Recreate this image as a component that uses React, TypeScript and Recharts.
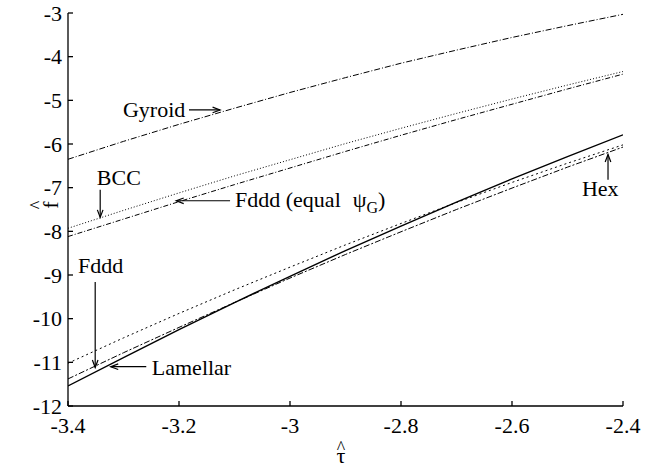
import React from 'react';
import { LineChart, Line, XAxis, YAxis, ReferenceLine, ReferenceDot, Label } from 'recharts';

// tau grid and free energy curves
const tau = [-3.4, -3.3, -3.2, -3.1, -3.0, -2.9, -2.8, -2.7, -2.6, -2.5, -2.4];
const gyroid = [-6.35, -5.94, -5.55, -5.18, -4.82, -4.48, -4.15, -3.85, -3.56, -3.29, -3.03];
const bcc = [-7.93, -7.52, -7.12, -6.73, -6.36, -5.99, -5.64, -5.3, -4.97, -4.65, -4.34];
const fdddEqual = [-8.12, -7.72, -7.32, -6.93, -6.55, -6.17, -5.8, -5.44, -5.09, -4.74, -4.4];
const hex = [-11.02, -10.44, -9.88, -9.34, -8.82, -8.31, -7.82, -7.34, -6.88, -6.44, -6.02];
const fddd = [-11.38, -10.78, -10.2, -9.63, -9.07, -8.53, -8.01, -7.5, -7.01, -6.53, -6.07];
const lamellar = [-11.54, -10.89, -10.25, -9.63, -9.03, -8.44, -7.88, -7.33, -6.8, -6.29, -5.79];

const xTicks = [-3.4, -3.2, -3, -2.8, -2.6, -2.4];
const yTicks = [-12, -11, -10, -9, -8, -7, -6, -5, -4, -3];

// annotation arrows [tau, f] from -> to
const arrows = [
  { id: 'gyroid', from: [-3.182, -5.22], to: [-3.126, -5.22] },
  { id: 'bcc', from: [-3.342, -7.05], to: [-3.342, -7.68] },
  { id: 'fdddEq', from: [-3.108, -7.3], to: [-3.205, -7.3] },
  { id: 'fddd', from: [-3.351, -9.16], to: [-3.351, -11.12] },
  { id: 'lamellar', from: [-3.259, -11.1], to: [-3.323, -11.1] },
  { id: 'hex', from: [-2.427, -6.82], to: [-2.427, -6.24] },
];

const notes = [
  { id: 'gyroid', text: 'Gyroid', at: [-3.301, -5.38] },
  { id: 'bcc', text: 'BCC', at: [-3.348, -6.94] },
  { id: 'fdddEq', text: 'Fddd (equal', at: [-3.099, -7.45] },
  { id: 'fddd', text: 'Fddd', at: [-3.382, -8.95] },
  { id: 'lamellar', text: 'Lamellar', at: [-3.249, -11.29] },
  { id: 'hex', text: 'Hex', at: [-2.474, -7.19] },
];

const data = tau.map((t, i) => ({
  tau: t,
  gyroid: gyroid[i],
  bcc: bcc[i],
  fdddEqual: fdddEqual[i],
  hex: hex[i],
  fddd: fddd[i],
  lamellar: lamellar[i],
}));

const FONT = "'Liberation Serif', 'DejaVu Serif', serif";
const tickStyle = { fontSize: 22, fill: '#000', style: { fontFamily: FONT } };

const Arrow = (p: any) => {
  const { x1, y1, x2, y2 } = p;
  const a = Math.atan2(y2 - y1, x2 - x1);
  const len = 8;
  const w = 0.36;
  const ax = x2 - len * Math.cos(a - w);
  const ay = y2 - len * Math.sin(a - w);
  const bx = x2 - len * Math.cos(a + w);
  const by = y2 - len * Math.sin(a + w);
  return (
    <g stroke="#000" strokeWidth={1.2} fill="none">
      <line x1={x1} y1={y1} x2={x2} y2={y2} />
      <polyline points={`${ax},${ay} ${x2},${y2} ${bx},${by}`} />
    </g>
  );
};

const noteShape = (text: string, id: string) => (p: any) => (
  <text x={p.cx} y={p.cy} fontSize={22} style={{ fontFamily: FONT }} fill="#000">
    {text}
    {id === 'fdddEq' && (
      <>
        <tspan dx={12}>ψ</tspan>
        <tspan fontSize={16} dy={6}>G</tspan>
        <tspan dy={-6}>)</tspan>
      </>
    )}
  </text>
);

const TauLabel = (p: any) => {
  const { viewBox } = p;
  const x = viewBox.x + 273;
  const y = viewBox.y;
  return (
    <text style={{ fontFamily: FONT }} fill="#000" fontSize={22} textAnchor="middle">
      <tspan x={x} y={y + 48} fontSize={18}>^</tspan>
      <tspan x={x} y={y + 57}>τ</tspan>
    </text>
  );
};

const FLabel = (p: any) => {
  const { viewBox } = p;
  const cx = viewBox.x + 42;
  const cy = 205;
  return (
    <text
      style={{ fontFamily: FONT }}
      fill="#000"
      fontSize={22}
      textAnchor="middle"
      transform={`rotate(-90 ${cx} ${cy})`}
    >
      <tspan x={cx} y={cy - 7} fontSize={18}>^</tspan>
      <tspan x={cx} y={cy + 8}>f</tspan>
    </text>
  );
};

const App: React.FC = () => {
  return (
    <div style={{ position: 'absolute', left: 0, top: 0, width: 645, height: 470, background: '#fff', fontFamily: FONT }}>
      <LineChart width={645} height={470} data={data} margin={{ top: 13, right: 22, left: 8, bottom: 34 }}>
        <XAxis
          dataKey="tau"
          type="number"
          domain={[-3.4, -2.4]}
          ticks={xTicks}
          interval={0}
          allowDataOverflow
          height={30}
          stroke="#000"
          strokeWidth={1.3}
          tickSize={-5}
          tickMargin={16}
          tick={tickStyle}
          tickFormatter={(v: number) => String(v)}
        >
          <Label content={TauLabel} />
        </XAxis>
        <XAxis
          xAxisId="top"
          orientation="top"
          dataKey="tau"
          type="number"
          domain={[-3.4, -2.4]}
          ticks={xTicks}
          interval={0}
          allowDataOverflow
          height={0}
          stroke="#000"
          strokeWidth={1.3}
          tickSize={-5}
          tick={false}
        />
        <YAxis
          type="number"
          domain={[-12, -3]}
          ticks={yTicks}
          interval={0}
          allowDataOverflow
          width={60}
          stroke="#000"
          strokeWidth={1.3}
          tickSize={-5}
          tickMargin={11}
          tick={tickStyle}
        >
          <Label content={FLabel} />
        </YAxis>
        <YAxis
          yAxisId="right"
          orientation="right"
          type="number"
          domain={[-12, -3]}
          ticks={yTicks}
          interval={0}
          allowDataOverflow
          width={0}
          stroke="#000"
          strokeWidth={1.3}
          tickSize={-5}
          tick={false}
        />
        <Line dataKey="gyroid" stroke="#000" strokeWidth={1} strokeDasharray="6 2 1 2" dot={false} isAnimationActive={false} />
        <Line dataKey="bcc" stroke="#000" strokeWidth={1} strokeDasharray="1 2" dot={false} isAnimationActive={false} />
        <Line dataKey="fdddEqual" stroke="#000" strokeWidth={1} strokeDasharray="5 2 1 2" dot={false} isAnimationActive={false} />
        <Line dataKey="hex" stroke="#000" strokeWidth={1} strokeDasharray="2 3" dot={false} isAnimationActive={false} />
        <Line dataKey="fddd" stroke="#000" strokeWidth={1} strokeDasharray="6 2 2 2" dot={false} isAnimationActive={false} />
        <Line dataKey="lamellar" stroke="#000" strokeWidth={1.4} dot={false} isAnimationActive={false} />
        {arrows.map((a) => (
          <ReferenceLine
            key={a.id}
            segment={[{ x: a.from[0], y: a.from[1] }, { x: a.to[0], y: a.to[1] }]}
            shape={Arrow}
            ifOverflow="visible"
          />
        ))}
        {notes.map((n) => (
          <ReferenceDot
            key={n.id}
            x={n.at[0]}
            y={n.at[1]}
            r={0}
            ifOverflow="visible"
            shape={noteShape(n.text, n.id)}
          />
        ))}
      </LineChart>
    </div>
  );
};

export default App;
